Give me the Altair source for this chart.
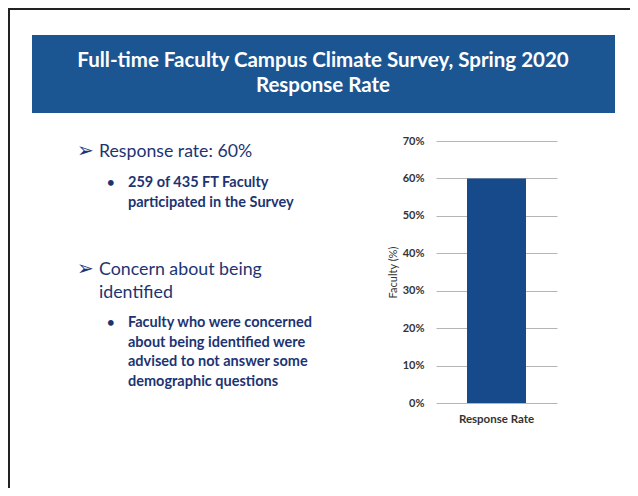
import altair as alt
import pandas as pd

# ---- data ----
categories = ["Response Rate"]
values = [0.60]
y_ticks = [0.0, 0.1, 0.2, 0.3, 0.4, 0.5, 0.6, 0.7]
title_lines = ["Full-time Faculty Campus Climate Survey, Spring 2020", "Response Rate"]
bullet1 = "Response rate: 60%"
bullet1_sub = ["259 of 435 FT Faculty", "participated in the Survey"]
bullet2 = ["Concern about being", "identified"]
bullet2_sub = ["Faculty who were concerned", "about being identified were",
               "advised to not answer some", "demographic questions"]

df = pd.DataFrame({"cat": categories, "val": values})

FONT = "Lato"
NAVY = "#1d3472"
BAR = "#164a8b"
BANNER = "#1b5693"
OX, OY = 436, 141  # plot origin in page pixels (page margin 8 + padding)


def px(x):
    return alt.value(x - OX)


def py(y):
    return alt.value(y - OY)


base = alt.Chart(df)

bar = base.mark_bar(color=BAR, size=59).encode(
    x=alt.X("cat:N", title=None,
            axis=alt.Axis(labelAngle=0, domain=False, ticks=False, labelPadding=10,
                          labelFont=FONT, labelFontSize=11.5, labelFontWeight="bold",
                          labelColor="#333333")),
    y=alt.Y("val:Q", title="Faculty (%)",
            scale=alt.Scale(domain=[0, 0.7], nice=False),
            axis=alt.Axis(values=y_ticks, format=".0%", domain=False, ticks=False,
                          grid=True, gridColor="#b5b5b5", gridWidth=1,
                          labelPadding=12, labelFont=FONT, labelFontSize=11,
                          labelFontWeight="bold", labelColor="#333333",
                          titleFont=FONT, titleFontSize=11, titleFontWeight="normal",
                          titleColor="#333333", titlePadding=4)),
)

layers = []

# slide border (top and left edges)
layers.append(base.mark_rule(color="#222222", strokeWidth=2).encode(
    x=px(8), x2=px(631), y=py(9)))
layers.append(base.mark_rule(color="#222222", strokeWidth=2).encode(
    x=px(9), y=py(8), y2=py(488)))

# banner
layers.append(base.mark_rect(color=BANNER).encode(
    x=px(32), x2=px(615), y=py(35), y2=py(113)))
for i, line in enumerate(title_lines):
    layers.append(base.mark_text(text=line, font=FONT, fontSize=20.5, fontWeight="bold",
                                 color="white", align="center", baseline="middle").encode(
        x=px(323), y=py(61 + 25 * i)))


def txt(s, x, y, size, weight="normal", font=FONT):
    return base.mark_text(text=s, font=font, fontSize=size, fontWeight=weight, color=NAVY,
                          align="left", baseline="middle").encode(x=px(x), y=py(y))


# bullet block 1
layers.append(txt("\u27a2", 77, 151, 20, font="DejaVu Sans"))
layers.append(txt(bullet1, 99, 152, 17.7))
layers.append(txt("\u2022", 107, 183, 13, weight="bold"))
for i, line in enumerate(bullet1_sub):
    layers.append(txt(line, 128, 183 + 19.5 * i, 14.5, weight="bold"))

# bullet block 2
layers.append(txt("\u27a2", 77, 269, 20, font="DejaVu Sans"))
for i, line in enumerate(bullet2):
    layers.append(txt(line, 99, 270 + 23 * i, 17.8))
layers.append(txt("\u2022", 107, 323, 13, weight="bold"))
for i, line in enumerate(bullet2_sub):
    layers.append(txt(line, 128, 323 + 19.6 * i, 14.5, weight="bold"))

chart = alt.layer(*layers, bar).properties(
    width=121, height=262,
    autosize=alt.AutoSizeParams(type="none"),
    padding={"left": 428, "top": 133, "right": 73, "bottom": 85},
    background="white",
).configure_view(stroke=None)

chart.save("out.html", embed_options={"renderer": "svg", "actions": False})
